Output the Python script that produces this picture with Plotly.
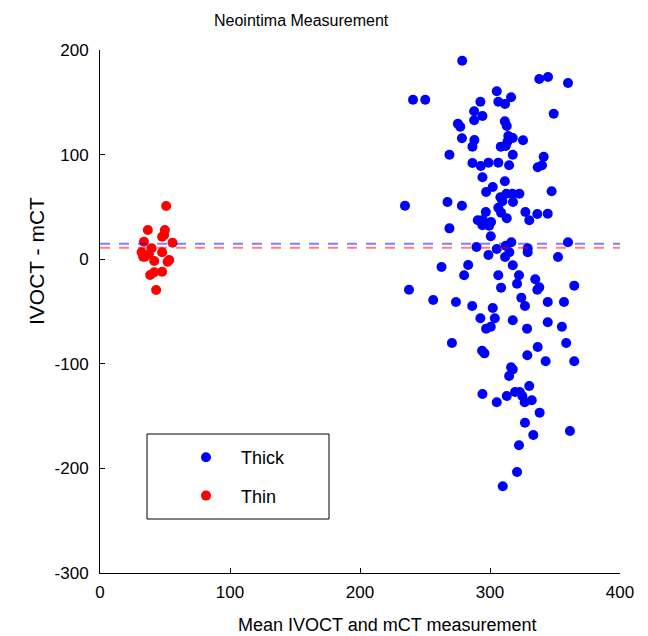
import plotly.graph_objects as go

# ---------------- data ----------------
thick_mean = [278.6, 337.9, 344.6, 360.0, 240.8, 250.2, 305.2, 316.2, 306.4, 311.6,
              292.6, 287.8, 294.2, 287.8, 349.0, 275.3, 277.1, 311.4, 312.9, 278.4,
              288.0, 286.5, 314.1, 317.5, 325.4, 308.3, 312.1, 313.4, 268.8, 317.5,
              341.3, 286.5, 292.9, 298.8, 306.4, 314.7, 336.7, 340.0, 294.2, 311.4,
              302.1, 297.0, 347.4, 308.0, 312.6, 317.2, 322.6, 309.5, 317.7, 234.6,
              267.3, 278.4, 306.4, 308.5, 296.8, 327.2, 336.4, 344.4, 330.2, 312.9,
              290.6, 294.5, 300.8, 294.2, 299.3, 268.8, 300.6, 360.0, 316.4, 312.1,
              289.6, 305.2, 329.0, 329.0, 314.9, 298.8, 311.6, 352.3, 262.7, 283.2,
              317.5, 280.1, 306.4, 322.3, 334.8, 320.8, 337.9, 336.4, 364.8, 308.5,
              237.7, 256.3, 273.8, 286.3, 302.1, 324.1, 326.9, 344.4, 356.9, 292.6,
              303.7, 317.5, 297.0, 300.6, 328.5, 344.4, 355.3, 270.7, 293.9, 295.7,
              328.7, 336.7, 358.6, 342.8, 364.8, 316.2, 317.5, 314.7, 330.2, 294.2,
              305.2, 312.9, 319.3, 322.9, 324.9, 326.7, 332.1, 338.2, 326.9, 361.5,
              333.3, 322.3, 320.8, 309.8]
thick_diff = [189.8, 172.3, 174.2, 168.5, 152.5, 152.5, 160.5, 154.8, 150.6, 148.4,
              150.6, 141.4, 136.9, 132.8, 139.1, 129.5, 126.7, 131.8, 127.3, 115.6,
              114.0, 107.6, 117.8, 115.9, 113.7, 107.6, 108.2, 112.3, 99.9, 99.9,
              98.0, 92.0, 89.1, 92.3, 92.3, 89.8, 87.9, 89.8, 78.3, 74.5,
              69.0, 64.2, 64.9, 59.2, 62.6, 62.6, 62.6, 55.4, 54.7, 51.1,
              54.7, 51.1, 49.2, 44.5, 45.1, 45.1, 43.2, 43.5, 37.2, 39.1,
              37.2, 37.5, 35.6, 32.4, 32.0, 29.5, 21.9, 16.2, 16.2, 12.9,
              11.7, 9.8, 10.4, 6.6, 6.6, 4.0, 2.1, 2.1, -7.5, -5.5,
              -5.8, -15.4, -15.4, -15.4, -19.2, -23.4, -26.9, -29.2, -25.3, -27.2,
              -29.2, -39.0, -40.9, -44.7, -46.7, -36.8, -44.7, -40.9, -40.9, -56.5,
              -56.5, -58.4, -66.4, -64.5, -66.4, -60.3, -64.5, -80.1, -87.5, -90.0,
              -91.9, -83.9, -80.1, -97.6, -97.6, -103.3, -105.3, -111.7, -121.2, -128.9,
              -136.8, -130.8, -127.0, -127.0, -130.8, -136.8, -134.9, -146.7, -156.3, -164.2,
              -168.1, -177.9, -203.4, -217.1]

thin_mean = [50.9, 36.8, 49.9, 49.3, 47.8, 55.8, 33.8, 39.7, 32.0, 34.5,
             37.6, 47.8, 41.7, 53.2, 52.0, 47.8, 41.7, 38.6, 43.2, 33.2]
thin_diff = [50.9, 27.9, 27.9, 23.1, 21.5, 15.8, 16.7, 10.4, 6.6, 2.4,
             4.7, 6.6, -1.7, -0.8, -2.4, -12.0, -12.5, -15.1, -29.4, 2.4]

bias_thick = 14.8
bias_thin = 11.0

x_ticks = [0, 100, 200, 300, 400]
x_tick_labels = ["0", "100", "200", "300", "400"]
y_ticks = [-300, -200, -100, 0, 100, 200]
y_tick_labels = ["-300", "-200", "-100", "0", "100", "200"]

FONT = "Liberation Sans, Arial, Helvetica, sans-serif"

# the page body has an 8px margin, so the figure is drawn at (8, 8)
OFF = 8
W, H = 648 - OFF, 636 - OFF
# plot area in window pixels: x 100..620, y 50..573
L, R, T, B = 100 - OFF, 28, 50 - OFF, 63
PW, PH = W - L - R, H - T - B


def px(xp):
    return (xp - OFF - L) / PW


def py(yp):
    return (H - B - (yp - OFF)) / PH


fig = go.Figure()
fig.add_trace(go.Scatter(x=thick_mean, y=thick_diff, mode="markers", name="Thick",
                         legendgroup="a",
                         marker=dict(color="rgb(0,0,255)", size=10, line=dict(width=0))))
fig.add_trace(go.Scatter(x=thin_mean, y=thin_diff, mode="markers", name="Thin",
                         legendgroup="b",
                         marker=dict(color="rgb(255,0,0)", size=10, line=dict(width=0))))

fig.add_hline(y=bias_thick, line=dict(color="rgba(0,0,255,0.5)", width=2, dash="10px,9px"))
fig.add_hline(y=bias_thin, line=dict(color="rgba(255,0,0,0.5)", width=2, dash="10px,9px"))

# legend box
fig.add_shape(type="rect", xref="paper", yref="paper",
              x0=px(147), x1=px(329), y0=py(519), y1=py(434),
              line=dict(color="black", width=1), fillcolor="white", layer="below")

axis_common = dict(showgrid=False, zeroline=False, showline=True, linecolor="black",
                   linewidth=1, ticks="inside", ticklen=5, tickcolor="black",
                   tickfont=dict(family=FONT, size=17, color="black"))

fig.update_xaxes(range=[0, 400], tickvals=x_ticks, ticktext=x_tick_labels,
                 ticklabelstandoff=4, **axis_common)
fig.update_yaxes(range=[-300, 200], tickvals=y_ticks, ticktext=y_tick_labels,
                 ticklabelstandoff=7, **axis_common)

fig.update_layout(
    width=W, height=H,
    margin=dict(l=L, r=R, t=T, b=B),
    plot_bgcolor="white", paper_bgcolor="white",
    font=dict(family=FONT, color="black"),
    showlegend=True,
    legend=dict(x=px(171), y=py(439), xanchor="left", yanchor="top",
                bgcolor="rgba(0,0,0,0)", borderwidth=0,
                font=dict(family=FONT, size=18, color="black"),
                itemwidth=60, tracegroupgap=12, traceorder="grouped"),
    annotations=[
        dict(text="Neointima Measurement", xref="paper", yref="paper",
             x=px(301), y=py(20), xanchor="center", yanchor="middle",
             showarrow=False, font=dict(family=FONT, size=16, color="black")),
        dict(text="Mean IVOCT and mCT measurement", xref="paper", yref="paper",
             x=px(387), y=py(625), xanchor="center", yanchor="middle",
             showarrow=False, font=dict(family=FONT, size=18, color="black")),
        dict(text="IVOCT - mCT", xref="paper", yref="paper", textangle=-90,
             x=px(37), y=py(261), xanchor="center", yanchor="middle",
             showarrow=False, font=dict(family=FONT, size=21, color="black")),
    ],
)

fig.write_html("out.html")
